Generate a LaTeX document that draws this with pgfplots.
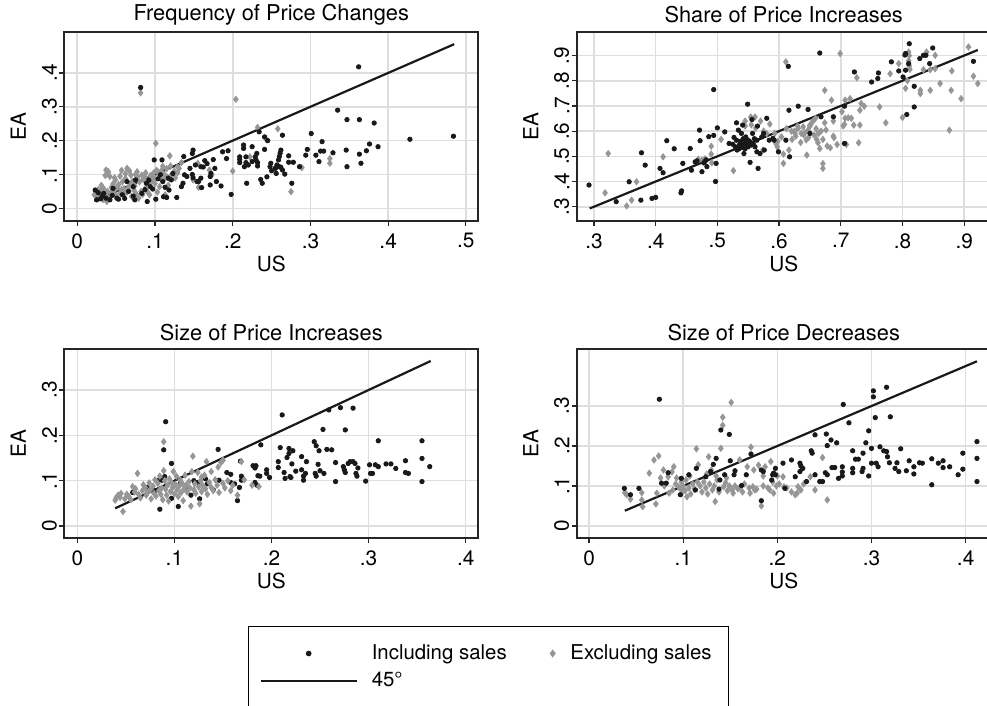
\documentclass[border=0pt]{standalone}
\usepackage{fontspec}
\setmainfont{TeX Gyre Heros}
\usepackage{pgfplots}
\pgfplotsset{compat=1.18}
\definecolor{dotblack}{RGB}{25,25,25}
\definecolor{dgrey}{RGB}{150,150,150}
\definecolor{gridc}{RGB}{222,222,222}
\pgfplotsset{
  panel/.style={
    scale only axis, width=207pt, height=94.5pt, anchor=south west,
    font=\fontsize{10.4}{12}\selectfont,
    grid=major, major grid style={gridc, line width=0.8pt},
    axis line style={line width=0.9pt, black!85},
    xtick pos=bottom, ytick pos=left,
    tick align=outside, major tick length=2.5pt,
    major tick style={black!85, line width=0.6pt},
    yticklabel style={rotate=90, anchor=south, inner sep=1pt},
    xticklabel style={inner sep=1pt, yshift=-2.5pt},
    title style={at={(axis description cs:0.5,1)}, anchor=center, yshift=2.5pt, font=\fontsize{10.9}{12}\selectfont},
    xlabel style={at={(axis description cs:0.5,0)}, anchor=center, yshift=-21.5pt},
    ylabel style={at={(axis description cs:-0.111,0.5)}, anchor=center, rotate=0},
    xlabel={US}, ylabel={EA},
    clip=false,
  },
  inc/.style={only marks, mark=*, mark size=1.1pt, color=dotblack,
    legend image code/.code={\draw[mark repeat=2,mark phase=2,##1] plot coordinates {(0pt,0pt) (24pt,0pt) (48pt,0pt)};}},
  exc/.style={only marks, mark=diamond*, mark size=1.55pt, color=dgrey,
    legend image code/.code={\draw[mark repeat=2,mark phase=2,##1] plot coordinates {(0pt,0pt) (4pt,0pt) (8pt,0pt)};}},
  fortyfive/.style={no marks, line width=1.1pt, color=dotblack,
    legend image code/.code={\draw[##1] (0pt,0pt) -- (48pt,0pt);}},
}
\begin{document}
\begin{tikzpicture}
\useasboundingbox (0,0) rectangle (493.5pt,353pt);
% ---------------- Panel 1
\begin{axis}[panel, at={(32.15pt,242.5pt)},
  title={Frequency of Price Changes},
  xmin=-0.0167, xmax=0.516, ymin=-0.0375, ymax=0.521,
  xtick={0,0.1,0.2,0.3,0.4,0.5}, xticklabels={0,.1,.2,.3,.4,.5},
  ytick={0,0.1,0.2,0.3,0.4}, yticklabels={0,.1,.2,.3,.4}]
\addplot[exc] coordinates {(0.0815,0.341)(0.204,0.322)(0.101,0.192)(0.232,0.239)(0.258,0.235)(0.200,0.110)(0.325,0.147)(0.325,0.133)(0.289,0.120)(0.275,0.049)(0.243,0.204)(0.119,0.155)(0.120,0.125)(0.155,0.133)(0.156,0.062)(0.170,0.113)(0.173,0.098)(0.134,0.135)(0.129,0.123)(0.149,0.084)(0.222,0.152)(0.254,0.118)
(0.037,0.113)(0.039,0.102)(0.042,0.094)(0.049,0.084)(0.057,0.112)(0.064,0.118)(0.067,0.111)(0.069,0.098)(0.077,0.108)(0.078,0.094)(0.085,0.085)(0.040,0.108)(0.036,0.097)(0.046,0.072)(0.052,0.065)(0.058,0.078)(0.062,0.088)(0.068,0.072)(0.074,0.066)(0.080,0.078)(0.087,0.092)(0.094,0.096)(0.098,0.104)(0.102,0.112)(0.105,0.098)(0.108,0.086)(0.112,0.100)(0.115,0.117)(0.110,0.124)(0.104,0.108)(0.099,0.090)(0.092,0.072)(0.088,0.060)(0.082,0.050)(0.076,0.042)(0.070,0.035)(0.064,0.048)(0.060,0.058)(0.055,0.045)(0.050,0.038)(0.047,0.052)(0.043,0.046)(0.040,0.030)(0.038,0.020)(0.034,0.058)(0.030,0.050)(0.028,0.040)(0.026,0.032)(0.024,0.045)(0.022,0.040)(0.031,0.068)(0.033,0.026)(0.036,0.040)(0.044,0.062)(0.053,0.070)(0.057,0.055)(0.061,0.043)(0.066,0.062)(0.071,0.080)(0.073,0.053)(0.079,0.030)(0.084,0.041)(0.090,0.050)(0.096,0.082)(0.100,0.073)(0.106,0.064)(0.111,0.083)(0.116,0.092)(0.121,0.098)(0.125,0.110)(0.129,0.105)(0.131,0.118)(0.088,0.105)(0.083,0.098)(0.075,0.100)(0.062,0.102)(0.055,0.095)(0.048,0.090)(0.051,0.060)(0.039,0.050)(0.027,0.055)(0.093,0.040)(0.103,0.048)(0.113,0.040)(0.117,0.068)(0.126,0.090)(0.108,0.110)(0.098,0.082)};
\addplot[inc] coordinates {(0.0815,0.357)(0.362,0.418)(0.335,0.290)(0.347,0.262)(0.363,0.262)(0.382,0.252)(0.301,0.221)(0.428,0.204)(0.484,0.213)(0.387,0.182)(0.376,0.190)(0.372,0.170)(0.346,0.172)(0.363,0.160)(0.365,0.133)(0.347,0.123)(0.315,0.197)(0.317,0.169)(0.313,0.169)(0.329,0.164)(0.311,0.138)(0.307,0.157)(0.294,0.157)(0.296,0.174)(0.286,0.123)(0.278,0.136)(0.272,0.155)(0.276,0.074)(0.267,0.101)(0.264,0.216)(0.241,0.211)(0.234,0.226)(0.245,0.200)(0.241,0.174)(0.231,0.162)(0.229,0.152)(0.230,0.143)(0.232,0.135)(0.225,0.182)(0.217,0.135)(0.217,0.152)(0.214,0.187)(0.214,0.177)(0.209,0.152)(0.209,0.144)(0.215,0.123)(0.218,0.074)(0.198,0.041)(0.194,0.170)(0.192,0.147)(0.187,0.167)(0.175,0.144)(0.177,0.118)(0.179,0.079)(0.171,0.069)(0.171,0.094)(0.185,0.066)(0.172,0.103)(0.159,0.123)(0.159,0.089)(0.156,0.079)(0.160,0.061)(0.154,0.079)(0.149,0.172)(0.148,0.162)(0.137,0.153)(0.138,0.099)(0.141,0.094)(0.136,0.074)(0.134,0.064)(0.148,0.100)(0.149,0.090)(0.099,0.143)(0.109,0.143)(0.101,0.027)(0.115,0.032)(0.128,0.032)(0.090,0.020)(0.083,0.044)(0.089,0.074)(0.074,0.025)(0.061,0.029)(0.053,0.027)(0.051,0.030)(0.064,0.079)(0.046,0.059)(0.034,0.044)(0.025,0.025)(0.027,0.046)(0.118,0.054)(0.117,0.089)(0.107,0.099)(0.110,0.079)(0.111,0.034)(0.123,0.103)(0.075,0.084)(0.072,0.036)(0.072,0.064)(0.042,0.025)(0.023,0.054)(0.257,0.128)(0.259,0.143)(0.260,0.153)(0.261,0.163)(0.262,0.172)(0.248,0.123)(0.250,0.111)(0.249,0.133)(0.244,0.093)(0.255,0.118)(0.256,0.103)(0.260,0.123)(0.262,0.121)(0.264,0.113)(0.236,0.085)(0.238,0.074)(0.232,0.125)(0.220,0.128)(0.225,0.138)(0.272,0.136)(0.209,0.135)(0.094,0.064)(0.097,0.057)(0.104,0.087)(0.087,0.055)(0.066,0.050)(0.058,0.040)(0.045,0.038)(0.037,0.030)(0.032,0.035)(0.030,0.028)(0.092,0.083)(0.113,0.062)(0.121,0.084)(0.145,0.118)(0.152,0.128)(0.164,0.141)(0.162,0.122)(0.167,0.132)};
\addplot[fortyfive] coordinates {(0.022,0.022)(0.485,0.485)};
\end{axis}
% ---------------- Panel 2
\begin{axis}[panel, at={(288.35pt,242.5pt)},
  title={Share of Price Increases},
  xmin=0.272, xmax=0.943, ymin=0.2433, ymax=0.9935,
  xtick={0.3,0.4,0.5,0.6,0.7,0.8,0.9}, xticklabels={.3,.4,.5,.6,.7,.8,.9},
  ytick={0.3,0.4,0.5,0.6,0.7,0.8,0.9}, yticklabels={.3,.4,.5,.6,.7,.8,.9}]
\addplot[exc] coordinates {(0.318,0.355)(0.323,0.511)(0.353,0.303)(0.361,0.326)(0.369,0.399)(0.412,0.498)(0.469,0.488)(0.490,0.540)(0.490,0.509)(0.491,0.474)(0.506,0.567)(0.526,0.443)(0.545,0.640)(0.554,0.656)(0.561,0.656)(0.574,0.525)(0.585,0.628)(0.593,0.591)(0.595,0.550)(0.597,0.538)(0.607,0.472)(0.607,0.509)(0.611,0.875)(0.616,0.525)(0.621,0.567)(0.626,0.591)(0.627,0.580)(0.631,0.611)(0.636,0.591)(0.639,0.617)(0.642,0.594)(0.644,0.565)(0.645,0.505)(0.647,0.604)(0.650,0.624)(0.653,0.633)(0.650,0.620)(0.657,0.584)(0.659,0.651)(0.661,0.567)(0.663,0.554)(0.664,0.591)(0.666,0.531)(0.671,0.567)(0.674,0.633)(0.674,0.762)(0.671,0.471)(0.671,0.452)(0.678,0.541)(0.683,0.534)(0.685,0.723)(0.688,0.580)(0.689,0.574)(0.694,0.547)(0.699,0.908)(0.702,0.677)(0.704,0.621)(0.706,0.627)(0.707,0.723)(0.707,0.651)(0.709,0.547)(0.712,0.653)(0.715,0.729)(0.717,0.651)(0.721,0.624)(0.726,0.812)(0.729,0.554)(0.731,0.624)(0.731,0.683)(0.733,0.710)(0.738,0.699)(0.763,0.696)(0.773,0.633)(0.780,0.828)(0.794,0.868)(0.800,0.654)(0.805,0.770)(0.808,0.800)(0.810,0.914)(0.811,0.900)(0.810,0.880)(0.811,0.858)(0.812,0.845)(0.810,0.865)(0.829,0.749)(0.829,0.762)(0.834,0.844)(0.839,0.914)(0.845,0.762)(0.845,0.844)(0.853,0.901)(0.853,0.848)(0.861,0.789)(0.876,0.604)(0.879,0.762)(0.880,0.839)(0.895,0.729)(0.907,0.934)(0.915,0.818)(0.922,0.789)(0.630,0.620)(0.655,0.640)(0.640,0.585)(0.668,0.600)(0.676,0.605)(0.620,0.600)(0.612,0.610)(0.604,0.577)(0.598,0.560)(0.688,0.640)(0.660,0.610)(0.648,0.575)(0.635,0.555)(0.625,0.600)(0.570,0.640)(0.575,0.600)(0.580,0.590)(0.562,0.612)(0.545,0.620)(0.555,0.625)(0.480,0.490)(0.475,0.485)};
\addplot[inc] coordinates {(0.292,0.386)(0.336,0.320)(0.357,0.399)(0.377,0.514)(0.376,0.326)(0.383,0.465)(0.394,0.333)(0.400,0.337)(0.407,0.452)(0.412,0.435)(0.418,0.562)(0.430,0.530)(0.441,0.355)(0.442,0.363)(0.444,0.472)(0.456,0.531)(0.458,0.445)(0.464,0.478)(0.467,0.482)(0.471,0.604)(0.472,0.562)(0.475,0.439)(0.480,0.480)(0.482,0.486)(0.478,0.474)(0.483,0.459)(0.486,0.578)(0.494,0.583)(0.494,0.765)(0.498,0.472)(0.497,0.400)(0.500,0.613)(0.512,0.597)(0.519,0.551)(0.531,0.633)(0.534,0.604)(0.531,0.564)(0.529,0.538)(0.532,0.525)(0.537,0.551)(0.539,0.591)(0.542,0.538)(0.545,0.564)(0.548,0.551)(0.546,0.577)(0.541,0.624)(0.543,0.511)(0.549,0.707)(0.550,0.538)(0.553,0.476)(0.556,0.646)(0.557,0.591)(0.558,0.551)(0.561,0.538)(0.564,0.518)(0.564,0.564)(0.565,0.620)(0.566,0.452)(0.569,0.511)(0.572,0.577)(0.575,0.591)(0.576,0.525)(0.580,0.651)(0.584,0.564)(0.590,0.571)(0.592,0.564)(0.599,0.518)(0.536,0.545)(0.540,0.555)(0.544,0.548)(0.538,0.560)(0.542,0.570)(0.547,0.542)(0.535,0.530)(0.552,0.560)(0.540,0.535)(0.545,0.530)(0.549,0.565)(0.555,0.545)(0.525,0.548)(0.527,0.575)(0.560,0.570)(0.616,0.683)(0.615,0.857)(0.611,0.564)(0.617,0.498)(0.631,0.699)(0.647,0.686)(0.650,0.591)(0.666,0.910)(0.668,0.657)(0.688,0.657)(0.706,0.551)(0.706,0.699)(0.722,0.835)(0.750,0.795)(0.761,0.831)(0.760,0.809)(0.782,0.875)(0.794,0.839)(0.801,0.815)(0.805,0.842)(0.805,0.908)(0.804,0.902)(0.807,0.666)(0.811,0.947)(0.810,0.868)(0.819,0.778)(0.819,0.696)(0.828,0.888)(0.834,0.901)(0.838,0.901)(0.844,0.868)(0.849,0.930)(0.915,0.877)};
\addplot[fortyfive] coordinates {(0.293,0.293)(0.922,0.922)};
\end{axis}
% ---------------- Panel 3
\begin{axis}[panel, at={(32.15pt,83.85pt)},
  title={Size of Price Increases},
  xmin=-0.0134, xmax=0.413, ymin=-0.0271, ymax=0.3898,
  xtick={0,0.1,0.2,0.3,0.4}, xticklabels={0,.1,.2,.3,.4},
  ytick={0,0.1,0.2,0.3}, yticklabels={0,.1,.2,.3},
  legend columns=2, legend cell align=left,
  legend style={at={(0.4437,-0.464)}, anchor=north west, draw=black, line width=0.6pt,
    inner xsep=5.5pt, inner ysep=8pt, row sep=2.8pt,
    nodes={inner ysep=1pt, inner xsep=3pt, font=\fontsize{10.2}{12}\selectfont},
    /tikz/column 1/.style={column sep=4pt},
    /tikz/column 2/.style={column sep=16pt},
    /tikz/column 3/.style={column sep=4.7pt}}]
\addplot[inc] coordinates {(0.091,0.230)(0.089,0.168)(0.211,0.245)(0.090,0.109)(0.097,0.138)(0.083,0.100)(0.087,0.101)(0.085,0.037)(0.057,0.074)(0.097,0.061)(0.104,0.043)(0.106,0.094)(0.117,0.068)(0.126,0.060)(0.124,0.096)(0.132,0.104)(0.145,0.169)(0.146,0.101)(0.154,0.118)(0.158,0.114)(0.158,0.096)(0.162,0.093)(0.165,0.056)(0.167,0.085)(0.168,0.143)(0.169,0.110)(0.169,0.101)(0.181,0.133)(0.184,0.133)(0.183,0.128)(0.183,0.096)(0.185,0.090)(0.186,0.111)(0.188,0.110)(0.189,0.179)(0.195,0.124)(0.195,0.116)(0.198,0.107)(0.207,0.142)(0.209,0.173)(0.207,0.129)(0.213,0.118)(0.214,0.105)(0.216,0.151)(0.218,0.171)(0.218,0.160)(0.221,0.137)(0.219,0.109)(0.220,0.107)(0.222,0.166)(0.225,0.121)(0.231,0.153)(0.231,0.124)(0.233,0.110)(0.233,0.101)(0.236,0.142)(0.235,0.116)(0.244,0.186)(0.246,0.177)(0.248,0.136)(0.245,0.116)(0.246,0.110)(0.250,0.122)(0.249,0.166)(0.253,0.213)(0.254,0.116)(0.257,0.169)(0.262,0.168)(0.259,0.256)(0.266,0.098)(0.266,0.140)(0.271,0.261)(0.276,0.212)(0.274,0.131)(0.275,0.124)(0.276,0.118)(0.279,0.138)(0.281,0.142)(0.284,0.260)(0.284,0.142)(0.286,0.138)(0.287,0.116)(0.289,0.128)(0.288,0.110)(0.297,0.099)(0.301,0.135)(0.302,0.116)(0.304,0.116)(0.307,0.135)(0.310,0.131)(0.310,0.188)(0.318,0.137)(0.323,0.137)(0.328,0.127)(0.338,0.144)(0.338,0.118)(0.341,0.116)(0.355,0.188)(0.355,0.149)(0.355,0.098)(0.363,0.131)(0.072,0.085)(0.080,0.078)(0.112,0.084)(0.120,0.100)(0.134,0.093)(0.140,0.080)};
\addlegendentry{Including sales}
\addplot[exc] coordinates {(0.039,0.057)(0.040,0.062)(0.042,0.068)(0.044,0.063)(0.047,0.032)(0.045,0.072)(0.049,0.060)(0.051,0.070)(0.053,0.065)(0.055,0.058)(0.057,0.087)(0.059,0.075)(0.060,0.082)(0.062,0.116)(0.063,0.070)(0.065,0.062)(0.067,0.078)(0.068,0.091)(0.070,0.085)(0.071,0.068)(0.072,0.074)(0.074,0.095)(0.075,0.080)(0.076,0.060)(0.078,0.088)(0.079,0.072)(0.080,0.102)(0.081,0.066)(0.083,0.094)(0.084,0.078)(0.085,0.110)(0.086,0.070)(0.087,0.084)(0.088,0.058)(0.089,0.186)(0.089,0.122)(0.090,0.100)(0.091,0.081)(0.092,0.068)(0.093,0.090)(0.094,0.055)(0.095,0.104)(0.096,0.076)(0.097,0.096)(0.098,0.085)(0.099,0.120)(0.100,0.071)(0.101,0.092)(0.102,0.110)(0.103,0.080)(0.104,0.065)(0.105,0.088)(0.106,0.102)(0.107,0.074)(0.108,0.094)(0.109,0.056)(0.110,0.082)(0.111,0.112)(0.112,0.090)(0.113,0.075)(0.115,0.098)(0.116,0.084)(0.117,0.044)(0.118,0.120)(0.119,0.154)(0.120,0.080)(0.121,0.093)(0.122,0.072)(0.124,0.118)(0.125,0.086)(0.126,0.049)(0.127,0.100)(0.128,0.076)(0.129,0.090)(0.131,0.112)(0.132,0.082)(0.133,0.142)(0.134,0.070)(0.136,0.096)(0.138,0.085)(0.140,0.078)(0.142,0.102)(0.144,0.090)(0.146,0.074)(0.148,0.140)(0.150,0.094)(0.152,0.084)(0.155,0.100)(0.158,0.078)(0.160,0.090)(0.165,0.068)(0.169,0.142)(0.172,0.102)(0.180,0.090)(0.187,0.087)(0.150,0.145)(0.145,0.130)(0.138,0.120)(0.128,0.108)};
\addlegendentry{Excluding sales}
\addplot[fortyfive] coordinates {(0.039,0.039)(0.364,0.364)};
\addlegendentry{45°}
\addlegendimage{empty legend}\addlegendentry{}
\addlegendimage{empty legend}\addlegendentry{\strut}
\end{axis}
% ---------------- Panel 4
\begin{axis}[panel, at={(288.35pt,83.85pt)},
  title={Size of Price Decreases},
  xmin=-0.0131, xmax=0.4266, ymin=-0.031, ymax=0.442,
  xtick={0,0.1,0.2,0.3,0.4}, xticklabels={0,.1,.2,.3,.4},
  ytick={0,0.1,0.2,0.3}, yticklabels={0,.1,.2,.3}]
\addplot[exc] coordinates {(0.038,0.083)(0.040,0.078)(0.044,0.067)(0.056,0.083)(0.057,0.048)(0.056,0.065)(0.064,0.132)(0.069,0.165)(0.074,0.175)(0.071,0.055)(0.072,0.082)(0.079,0.140)(0.076,0.120)(0.084,0.123)(0.090,0.148)(0.088,0.135)(0.089,0.090)(0.092,0.105)(0.095,0.098)(0.097,0.093)(0.098,0.110)(0.100,0.100)(0.102,0.088)(0.103,0.115)(0.104,0.073)(0.106,0.095)(0.108,0.080)(0.110,0.105)(0.112,0.092)(0.114,0.193)(0.116,0.153)(0.118,0.100)(0.120,0.085)(0.122,0.110)(0.124,0.095)(0.126,0.080)(0.127,0.173)(0.128,0.105)(0.130,0.140)(0.131,0.090)(0.133,0.100)(0.134,0.061)(0.136,0.115)(0.138,0.085)(0.140,0.194)(0.142,0.272)(0.142,0.252)(0.143,0.098)(0.145,0.108)(0.147,0.088)(0.149,0.100)(0.151,0.309)(0.152,0.090)(0.153,0.082)(0.155,0.100)(0.158,0.093)(0.160,0.095)(0.163,0.085)(0.165,0.105)(0.168,0.148)(0.170,0.095)(0.171,0.082)(0.172,0.197)(0.174,0.098)(0.176,0.090)(0.178,0.092)(0.180,0.152)(0.183,0.050)(0.185,0.100)(0.187,0.148)(0.190,0.095)(0.192,0.090)(0.193,0.161)(0.195,0.110)(0.196,0.082)(0.199,0.100)(0.202,0.105)(0.206,0.123)(0.207,0.098)(0.210,0.095)(0.215,0.085)(0.219,0.078)(0.221,0.082)(0.222,0.098)(0.225,0.090)(0.228,0.105)(0.235,0.123)(0.240,0.090)(0.248,0.171)(0.253,0.065)(0.085,0.082)(0.080,0.100)(0.093,0.120)(0.099,0.085)(0.107,0.125)(0.115,0.110)(0.125,0.130)(0.135,0.125)(0.146,0.120)(0.160,0.165)(0.175,0.140)(0.185,0.125)(0.200,0.125)};
\addplot[inc] coordinates {(0.0747,0.317)(0.140,0.240)(0.149,0.229)(0.270,0.304)(0.302,0.338)(0.302,0.323)(0.316,0.347)(0.304,0.271)(0.320,0.273)(0.276,0.258)(0.240,0.228)(0.252,0.230)(0.253,0.201)(0.263,0.208)(0.257,0.215)(0.236,0.188)(0.237,0.182)(0.297,0.238)(0.294,0.208)(0.280,0.188)(0.291,0.182)(0.300,0.194)(0.309,0.198)(0.313,0.188)(0.316,0.186)(0.317,0.173)(0.331,0.193)(0.305,0.157)(0.307,0.148)(0.300,0.157)(0.319,0.158)(0.325,0.144)(0.327,0.158)(0.329,0.136)(0.337,0.138)(0.340,0.163)(0.345,0.148)(0.345,0.130)(0.351,0.158)(0.354,0.157)(0.364,0.168)(0.364,0.103)(0.371,0.157)(0.376,0.163)(0.376,0.146)(0.383,0.148)(0.392,0.128)(0.397,0.182)(0.397,0.142)(0.412,0.211)(0.412,0.169)(0.412,0.111)(0.280,0.133)(0.280,0.144)(0.283,0.167)(0.286,0.167)(0.290,0.136)(0.291,0.144)(0.297,0.125)(0.269,0.148)(0.269,0.135)(0.269,0.125)(0.265,0.119)(0.261,0.146)(0.258,0.146)(0.251,0.133)(0.253,0.128)(0.245,0.111)(0.248,0.111)(0.240,0.128)(0.231,0.111)(0.224,0.157)(0.225,0.150)(0.224,0.136)(0.227,0.144)(0.219,0.123)(0.215,0.165)(0.206,0.157)(0.208,0.094)(0.198,0.144)(0.196,0.132)(0.195,0.128)(0.198,0.128)(0.194,0.115)(0.183,0.140)(0.185,0.136)(0.183,0.063)(0.172,0.180)(0.167,0.128)(0.162,0.101)(0.154,0.128)(0.155,0.138)(0.150,0.163)(0.144,0.128)(0.139,0.115)(0.135,0.169)(0.132,0.154)(0.129,0.136)(0.124,0.123)(0.114,0.144)(0.106,0.128)(0.098,0.119)(0.097,0.078)(0.082,0.107)(0.077,0.107)(0.084,0.133)(0.053,0.094)(0.0375,0.094)(0.044,0.078)(0.138,0.092)(0.113,0.090)};
\addplot[fortyfive] coordinates {(0.038,0.038)(0.412,0.412)};
\end{axis}
\end{tikzpicture}
\end{document}
